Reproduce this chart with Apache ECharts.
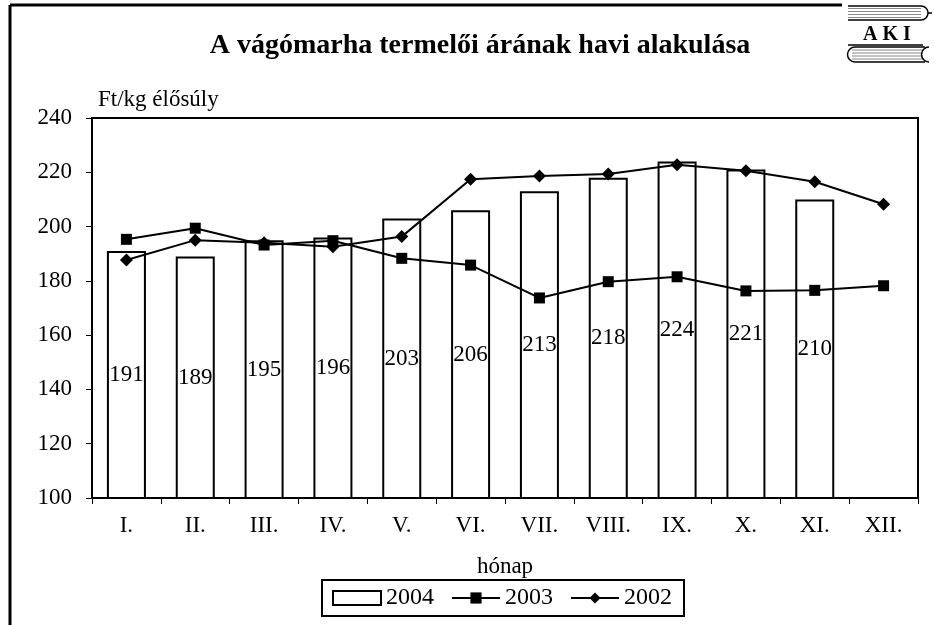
<!doctype html>
<html>
<head>
<meta charset="utf-8">
<title>A vágómarha termelői árának havi alakulása</title>
<script src="https://cdn.jsdelivr.net/npm/echarts@6/dist/echarts.min.js"></script>
<style>
  html, body { margin: 0; padding: 0; background: #fff; }
  #main { width: 934px; height: 625px; }
</style>
</head>
<body>
<div id="main"></div>
<script type="text/javascript">
var months = ['I.', 'II.', 'III.', 'IV.', 'V.', 'VI.', 'VII.', 'VIII.', 'IX.', 'X.', 'XI.', 'XII.'];
var price2004 = [191, 189, 195, 196, 203, 206, 213, 218, 224, 221, 210, null];
var price2003 = [195.3, 199.4, 193.2, 194.8, 188.3, 185.8, 173.7, 179.7, 181.5, 176.3, 176.5, 178.2];
var price2002 = [187.7, 195, 194, 192.6, 196.3, 217.4, 218.6, 219.4, 222.8, 220.6, 216.5, 208.2];

var font = 'Liberation Serif, Times New Roman, serif';
var myChart = echarts.init(document.getElementById('main'));

// AKI logo, just lines and text
var logo = [];
[8.5, 11.5, 14.5, 17.5].forEach(function (y) {
    logo.push({ type: 'line', shape: { x1: 848, y1: y, x2: 921, y2: y }, style: { stroke: '#888', lineWidth: 1 } });
});
[50, 53, 56, 59].forEach(function (y) {
    logo.push({ type: 'line', shape: { x1: 852, y1: y, x2: 923, y2: y }, style: { stroke: '#888', lineWidth: 1 } });
});
logo.push({ type: 'line', shape: { x1: 848, y1: 6, x2: 921, y2: 6 }, style: { stroke: '#000', lineWidth: 1.5 } });
logo.push({ type: 'line', shape: { x1: 848, y1: 20, x2: 921, y2: 20 }, style: { stroke: '#000', lineWidth: 1.5 } });
logo.push({ type: 'arc', shape: { cx: 921, cy: 13, r: 7, startAngle: -Math.PI / 2, endAngle: Math.PI / 2 }, style: { stroke: '#000', fill: null, lineWidth: 1.5 } });
logo.push({ type: 'line', shape: { x1: 928, y1: 13, x2: 932, y2: 13 }, style: { stroke: '#000', lineWidth: 1.5 } });
logo.push({ type: 'text', x: 887, y: 35, style: { text: 'A K I', font: 'bold 20px ' + font, fill: '#000', align: 'center', verticalAlign: 'middle' } });
logo.push({ type: 'line', shape: { x1: 848, y1: 45, x2: 923, y2: 45 }, style: { stroke: '#000', lineWidth: 1.5 } });
logo.push({ type: 'line', shape: { x1: 855, y1: 47, x2: 925, y2: 47 }, style: { stroke: '#000', lineWidth: 1.5 } });
logo.push({ type: 'line', shape: { x1: 855, y1: 62, x2: 925, y2: 62 }, style: { stroke: '#000', lineWidth: 1.5 } });
logo.push({ type: 'arc', shape: { cx: 855, cy: 54.5, r: 7.5, startAngle: Math.PI / 2, endAngle: Math.PI * 1.5 }, style: { stroke: '#000', fill: null, lineWidth: 1.5 } });
logo.push({ type: 'arc', shape: { cx: 929, cy: 54.5, r: 7.5, startAngle: Math.PI / 2, endAngle: Math.PI * 1.5 }, style: { stroke: '#000', fill: null, lineWidth: 1.5 } });

var option = {
    animation: false,
    backgroundColor: '#fff',
    textStyle: { fontFamily: font, color: '#000' },
    title: {
        text: 'A vágómarha termelői árának havi alakulása',
        left: 475,
        textAlign: 'center',
        top: 27,
        textStyle: { fontFamily: font, fontSize: 28, fontWeight: 'bold', color: '#000' }
    },
    graphic: [
        { type: 'line', shape: { x1: 10, y1: 5, x2: 842, y2: 5 }, style: { stroke: '#000', lineWidth: 3 } },
        { type: 'line', shape: { x1: 10, y1: 5, x2: 10, y2: 625 }, style: { stroke: '#000', lineWidth: 3 } }
    ].concat(logo),
    legend: {
        left: 322,
        top: 580,
        padding: [6, 12, 6, 10],
        borderColor: '#000',
        borderWidth: 2,
        itemGap: 17,
        itemWidth: 48,
        itemHeight: 14,
        textStyle: { fontFamily: font, fontSize: 24, color: '#000' },
        data: [
            { name: '2004', icon: 'rect', itemStyle: { color: '#fff', borderColor: '#000', borderWidth: 2 } },
            { name: '2003' },
            { name: '2002' }
        ]
    },
    grid: {
        left: 92,
        right: 16,
        top: 118,
        bottom: 127,
        show: true,
        borderColor: '#000',
        borderWidth: 2,
        containLabel: false
    },
    xAxis: {
        type: 'category',
        data: months,
        name: 'hónap',
        nameLocation: 'middle',
        nameGap: 57,
        nameTextStyle: { fontFamily: font, fontSize: 23, color: '#000' },
        axisLine: { lineStyle: { color: '#000', width: 2 } },
        axisTick: { show: true, length: 6, lineStyle: { color: '#000', width: 1 } },
        axisLabel: { fontFamily: font, fontSize: 23, color: '#000', margin: 16 },
        splitLine: { show: false }
    },
    yAxis: {
        type: 'value',
        min: 100,
        max: 240,
        interval: 20,
        name: 'Ft/kg élősúly',
        nameLocation: 'end',
        nameGap: 7,
        nameTextStyle: { fontFamily: font, fontSize: 23, color: '#000', align: 'left', padding: [0, 0, 0, 6] },
        axisLine: { show: true, lineStyle: { color: '#000', width: 2 } },
        axisTick: { show: true, length: 6, lineStyle: { color: '#000', width: 1 } },
        axisLabel: { fontFamily: font, fontSize: 23, color: '#000', margin: 20 },
        splitLine: { show: false }
    },
    series: [
        {
            name: '2004',
            type: 'bar',
            data: price2004,
            barWidth: 39,
            itemStyle: { color: '#fff', borderColor: '#000', borderWidth: 2 },
            label: {
                show: true,
                position: 'inside',
                fontFamily: font,
                fontSize: 23,
                color: '#000'
            }
        },
        {
            name: '2003',
            type: 'line',
            data: price2003,
            symbol: 'rect',
            symbolSize: 11,
            lineStyle: { color: '#000', width: 2 },
            itemStyle: { color: '#000' }
        },
        {
            name: '2002',
            type: 'line',
            data: price2002,
            symbol: 'diamond',
            symbolSize: 13,
            lineStyle: { color: '#000', width: 2 },
            itemStyle: { color: '#000' }
        }
    ]
};

myChart.setOption(option);
</script>
</body>
</html>
